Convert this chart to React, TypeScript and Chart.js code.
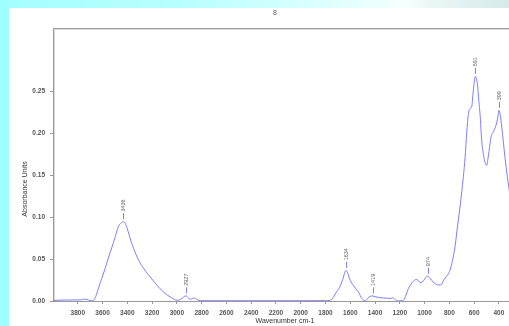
import React, { useEffect, useRef } from "react";
import { Chart, registerables } from "chart.js";

Chart.register(...registerables);

const wavenumbers = [
  4000, 3950, 3900, 3850, 3800, 3760, 3743, 3725, 3700, 3680, 3659, 3640, 3618, 3594, 3564, 3538, 3511, 3497,
  3471, 3450, 3436, 3415, 3390, 3370, 3350, 3309, 3269, 3240, 3215, 3161, 3108, 3054, 3020, 3000, 2985, 2960,
  2945, 2927, 2910, 2892, 2875, 2860, 2840, 2811, 2700, 2400, 2100, 1800, 1760, 1749, 1730, 1710, 1682, 1655,
  1645, 1634, 1620, 1601, 1575, 1555, 1534, 1507, 1480, 1460, 1440, 1419, 1400, 1370, 1333, 1300, 1279, 1265,
  1257, 1240, 1212, 1190, 1171, 1150, 1131, 1110, 1091, 1070, 1055, 1037, 1020, 1000, 985, 974, 955, 942, 920,
  902, 880, 865, 849, 825, 810, 794, 775, 754, 735, 714, 700, 687, 673, 660, 647, 634, 620, 607, 598, 591, 582,
  572, 562, 552, 539, 521, 510, 498, 488, 480, 464, 440, 418, 408, 399, 390, 377, 351, 332, 310, 300,
];

const absorbance = [
  0.0005, 0.001, 0.0011, 0.0012, 0.0013, 0.0016, 0.0022, 0.0018, 0.0004, 0.0002, 0.004, 0.012, 0.022, 0.032,
  0.046, 0.058, 0.07, 0.077, 0.089, 0.093, 0.0945, 0.092, 0.081, 0.071, 0.063, 0.0485, 0.039, 0.033, 0.0286,
  0.0187, 0.0107, 0.0048, 0.0018, 0.0008, 0.001, 0.003, 0.0048, 0.0062, 0.004, 0.002, 0.003, 0.0036, 0.002,
  0.0004, 0.0003, 0.0003, 0.0003, 0.0004, 0.001, 0.002, 0.006, 0.011, 0.0175, 0.0286, 0.034, 0.0365, 0.033,
  0.0246, 0.0187, 0.0145, 0.0107, 0.003, 0.0002, 0.003, 0.0055, 0.006, 0.0052, 0.0042, 0.0036, 0.0033, 0.003,
  0.0034, 0.004, 0.002, 0.0002, 0.0002, 0.001, 0.007, 0.0148, 0.02, 0.0235, 0.0255, 0.025, 0.022, 0.0225, 0.026,
  0.029, 0.0295, 0.027, 0.0246, 0.021, 0.0195, 0.019, 0.0195, 0.024, 0.029, 0.032, 0.037, 0.048, 0.065, 0.088,
  0.112, 0.13, 0.148, 0.171, 0.2, 0.222, 0.229, 0.231, 0.25, 0.262, 0.2675, 0.265, 0.256, 0.238, 0.222, 0.191,
  0.171, 0.164, 0.1615, 0.17, 0.178, 0.195, 0.203, 0.212, 0.22, 0.227, 0.222, 0.207, 0.171, 0.148, 0.125, 0.113,
];

const xTicks = [3800, 3600, 3400, 3200, 3000, 2800, 2600, 2400, 2200, 2000, 1800, 1600, 1400, 1200, 1000, 800, 600, 400];
const yTicks = [0, 0.05, 0.1, 0.15, 0.2, 0.25];

const peakWn = [3436, 2927, 1634, 1419, 974, 591, 399];
const peakAbs = [0.0945, 0.0062, 0.0365, 0.006, 0.0295, 0.2675, 0.227];
const peakLabels = ["3436", "2927", "1634", "1419", "974", "591", "399"];

const chartTitle = "8";
const yTitle = "Absorbance Units";
const xTitle = "Wavenumber cm-1";

const CURVE = "rgb(125,125,255)";
const FONT = "'Liberation Sans', Arial, sans-serif";

export default function App() {
  const ref = useRef<HTMLCanvasElement | null>(null);

  useEffect(() => {
    const canvas = ref.current;
    if (!canvas) return;
    const deco = {
      id: "deco",
      afterDraw(chart: any) {
        const ctx = chart.ctx;
        const a = chart.chartArea;
        const xs = chart.scales.x;
        const ys = chart.scales.y;
        ctx.save();
        // top frame line
        ctx.strokeStyle = "#a0a0a0";
        ctx.lineWidth = 1;
        ctx.beginPath();
        ctx.moveTo(a.left, a.top + 0.5);
        ctx.lineTo(chart.width, a.top + 0.5);
        ctx.stroke();
        ctx.strokeStyle = "#dadada";
        ctx.beginPath();
        ctx.moveTo(a.left + 1, a.top + 1.5);
        ctx.lineTo(chart.width, a.top + 1.5);
        ctx.moveTo(Math.round(a.left) + 1.5, a.top + 1);
        ctx.lineTo(Math.round(a.left) + 1.5, a.bottom - 1);
        ctx.stroke();
        // title
        ctx.fillStyle = "#555";
        ctx.font = `7px ${FONT}`;
        ctx.textAlign = "center";
        ctx.textBaseline = "middle";
        ctx.fillText(chartTitle, 275, 13);
        // axis titles
        ctx.fillStyle = "#333";
        ctx.font = `7px ${FONT}`;
        ctx.fillText(xTitle, 285, 321);
        ctx.save();
        ctx.translate(25, 189);
        ctx.rotate(-Math.PI / 2);
        ctx.fillText(yTitle, 0, 0);
        ctx.restore();
        // peak labels
        for (let i = 0; i < peakWn.length; i++) {
          const px = Math.round(xs.getPixelForValue(peakWn[i])) + 0.5;
          const py = ys.getPixelForValue(peakAbs[i]);
          ctx.strokeStyle = CURVE;
          ctx.lineWidth = 1;
          ctx.beginPath();
          ctx.moveTo(px, py - 2.5);
          ctx.lineTo(px, py - 8.5);
          ctx.stroke();
          ctx.save();
          ctx.translate(px, py - 10);
          ctx.rotate(-Math.PI / 2);
          ctx.fillStyle = "#666";
          ctx.font = `5.5px ${FONT}`;
          ctx.textAlign = "left";
          ctx.textBaseline = "middle";
          ctx.fillText(peakLabels[i], 0, 0);
          ctx.restore();
        }
        ctx.restore();
      },
    };

    const chart = new Chart(canvas, {
      type: "line",
      data: {
        datasets: [
          {
            data: wavenumbers.map((w, i) => ({ x: w, y: absorbance[i] })),
            borderColor: CURVE,
            borderWidth: 1,
            pointRadius: 0,
            cubicInterpolationMode: "monotone",
            fill: false,
          },
        ],
      },
      options: {
        animation: false,
        responsive: false,
        devicePixelRatio: 1,
        layout: { padding: { top: 28, right: 8.7, left: 0, bottom: 0 } },
        plugins: { legend: { display: false }, tooltip: { enabled: false }, title: { display: false } },
        scales: {
          x: {
            type: "linear",
            reverse: true,
            min: 300,
            max: 4000,
            afterBuildTicks: (s: any) => {
              s.ticks = xTicks.map((v) => ({ value: v }));
            },
            afterFit: (s: any) => {
              s.height = 25;
            },
            grid: { drawOnChartArea: false, tickLength: 3, color: "#999" },
            border: { color: "#999" },
            ticks: {
              autoSkip: false,
              maxRotation: 0,
              padding: 5,
              color: "#555",
              font: { family: FONT, size: 6.5, weight: "bold" },
              callback: (v: any) => String(v),
            },
          },
          y: {
            min: 0,
            max: 0.325,
            afterBuildTicks: (s: any) => {
              s.ticks = yTicks.map((v) => ({ value: v }));
            },
            afterFit: (s: any) => {
              s.width = 53;
            },
            grid: { drawOnChartArea: false, tickLength: 3, color: "#999" },
            border: { color: "#999" },
            ticks: {
              padding: 5,
              color: "#555",
              font: { family: FONT, size: 6.5, weight: "bold" },
              callback: (v: any) => Number(v).toFixed(2),
            },
          },
        },
      },
      plugins: [deco],
    } as any);
    return () => chart.destroy();
  }, []);

  return (
    <div
      style={{
        position: "fixed",
        left: 0,
        top: 0,
        width: 509,
        height: 326,
        overflow: "hidden",
        background: "#fff",
      }}
    >
      <div
        style={{
          position: "absolute",
          left: 0,
          top: 0,
          width: 509,
          height: 8,
          background:
            "linear-gradient(to right, #a4ffff 0%, #b8ffff 35%, #d8ffff 60%, #f6ffff 80%, #eaf6f6 85%, #d6eaea 100%)",
        }}
      />
      <div style={{ position: "absolute", left: 0, top: 0, width: 9, height: 326, background: "#9effff" }} />
      <canvas ref={ref} width={520} height={326} style={{ position: "absolute", left: 0, top: 0 }} />
    </div>
  );
}
